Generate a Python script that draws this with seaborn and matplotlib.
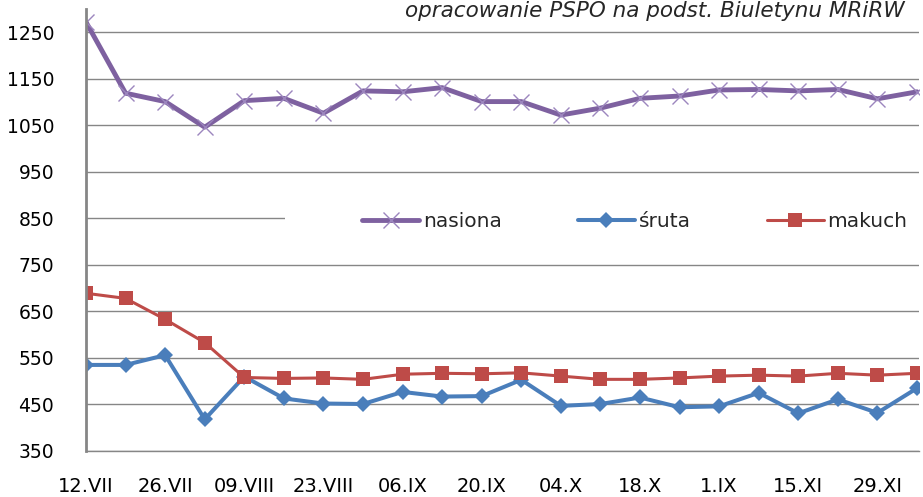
import numpy as np
import pandas as pd
import matplotlib
matplotlib.use("Agg")
import matplotlib.pyplot as plt
from matplotlib.patches import Rectangle
import seaborn as sns

# data
tick_labels = ["12.VII", "26.VII", "09.VIII", "23.VIII", "06.IX", "20.IX",
               "04.X", "18.X", "1.IX", "15.XI", "29.XI"]
nasiona = [1272, 1119, 1101, 1046, 1103, 1108, 1076, 1124, 1122, 1131, 1101,
           1101, 1072, 1087, 1108, 1113, 1126, 1127, 1124, 1127, 1107, 1122]
sruta = [535, 535, 556, 418, 510, 463, 452, 451, 477, 467, 468,
         503, 447, 451, 465, 444, 446, 475, 431, 461, 432, 485]
makuch = [689, 678, 633, 583, 508, 506, 507, 504, 515, 517, 516,
          518, 511, 504, 504, 507, 511, 513, 511, 517, 513, 517]

week = np.arange(len(nasiona))
df = pd.DataFrame({"week": week, "nasiona": nasiona, "śruta": sruta, "makuch": makuch})

sns.set_style("white")
plt.rcParams['font.family'] = ['DejaVu Sans']

fig = plt.figure(figsize=(9.23, 4.97), dpi=100)
ax = fig.add_axes([86 / 923, 46 / 497, 833 / 923, 442 / 497])

purple = "#7E61A0"
blue = "#4A7EBB"
red = "#BE4B48"

sns.lineplot(data=df, x="week", y="nasiona", ax=ax, color=purple, linewidth=3.5,
             marker="x", markersize=12, markeredgewidth=1.0,
             markeredgecolor="#9C86BE", label="nasiona", zorder=3)
sns.lineplot(data=df, x="week", y="śruta", ax=ax, color=blue, linewidth=2.9,
             marker="D", markersize=8, markeredgewidth=0, label="śruta", zorder=4)
sns.lineplot(data=df, x="week", y="makuch", ax=ax, color=red, linewidth=2.2,
             marker="s", markersize=10, markeredgewidth=0, label="makuch", zorder=5)

ax.set_xlim(0, 21.05)
ax.set_ylim(350, 1300)
ax.set_yticks(np.arange(350, 1251, 100))
ax.set_xticks(week[::2])
ax.set_xticklabels(tick_labels)
ax.set_xlabel("")
ax.set_ylabel("")
ax.tick_params(axis="y", length=0, labelsize=13.5, colors="black", pad=23)
ax.tick_params(axis="x", length=0, labelsize=14, colors="black", pad=19)

ax.yaxis.grid(True, color="#868686", linewidth=1.0)
ax.xaxis.grid(False)
ax.set_axisbelow(True)
for s in ["top", "right"]:
    ax.spines[s].set_visible(False)
ax.spines["bottom"].set_color("#868686")
ax.spines["bottom"].set_linewidth(1.0)
ax.spines["left"].set_color("#868686")
ax.spines["left"].set_linewidth(2)
ax.spines["left"].set_zorder(6)

# white box behind legend hides part of the 850 gridline
ax.add_patch(Rectangle((0.239, 0.47), 0.77, 0.1, transform=ax.transAxes,
                       facecolor="white", edgecolor="none", zorder=1.5, clip_on=False))

leg = ax.legend(loc="center left", bbox_to_anchor=(0.31, 0.52), ncol=3,
                frameon=False, fontsize=14.5, handlelength=2.8, handletextpad=0.2,
                columnspacing=3.8)

fig.text(405 / 923, 1 - 1 / 497, "opracowanie PSPO na podst. Biuletynu MRiRW",
         fontsize=15.5, style="italic", va="top", ha="left", color="#262626")

fig.savefig("out.png", dpi=100)
